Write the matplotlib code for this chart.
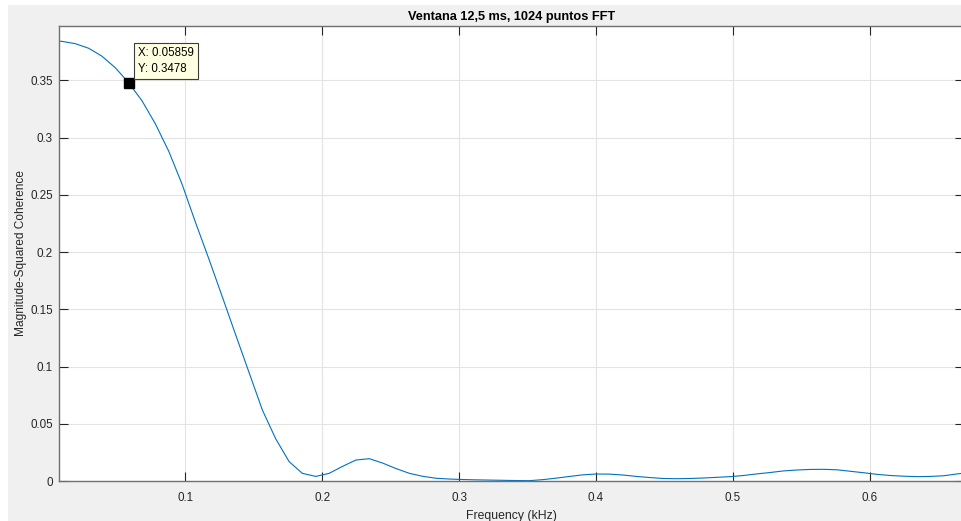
import numpy as np
import matplotlib
matplotlib.use("Agg")
import matplotlib.pyplot as plt
from matplotlib.patches import Rectangle

plt.rcParams['font.family'] = ['Liberation Sans', 'DejaVu Sans']

# frequency bins (kHz), 10 kHz / 1024-point FFT spacing
freq_khz = [0.0000, 0.0098, 0.0195, 0.0293, 0.0391, 0.0488, 0.0586, 0.0684,
            0.0781, 0.0879, 0.0977, 0.1074, 0.1172, 0.1270, 0.1367, 0.1465,
            0.1563, 0.1660, 0.1758, 0.1855, 0.1953, 0.2051, 0.2148, 0.2246,
            0.2344, 0.2441, 0.2539, 0.2637, 0.2734, 0.2832, 0.2930, 0.3027,
            0.3125, 0.3223, 0.3320, 0.3418, 0.3516, 0.3613, 0.3711, 0.3809,
            0.3906, 0.4004, 0.4102, 0.4199, 0.4297, 0.4395, 0.4492, 0.4590,
            0.4688, 0.4785, 0.4883, 0.4980, 0.5078, 0.5176, 0.5273, 0.5371,
            0.5469, 0.5566, 0.5664, 0.5762, 0.5859, 0.5957, 0.6055, 0.6152,
            0.6250, 0.6348, 0.6445, 0.6543, 0.6641, 0.6738]

# magnitude-squared coherence per bin
coherence = [0.3850, 0.3840, 0.3820, 0.3780, 0.3710, 0.3610, 0.3478, 0.3320,
             0.3120, 0.2880, 0.2590, 0.2260, 0.1940, 0.1610, 0.1280, 0.0950,
             0.0620, 0.0370, 0.0170, 0.0067, 0.0040, 0.0067, 0.0127, 0.0183,
             0.0195, 0.0157, 0.0109, 0.0067, 0.0041, 0.0024, 0.0017, 0.0013,
             0.0010, 0.0008, 0.0006, 0.0004, 0.0003, 0.0012, 0.0025, 0.0040,
             0.0054, 0.0061, 0.0060, 0.0052, 0.0040, 0.0030, 0.0022, 0.0020,
             0.0022, 0.0026, 0.0032, 0.0038, 0.0048, 0.0062, 0.0074, 0.0088,
             0.0096, 0.0101, 0.0102, 0.0098, 0.0085, 0.0072, 0.0058, 0.0048,
             0.0042, 0.0038, 0.0040, 0.0046, 0.0062, 0.0075]

# data cursor
tip_x = 0.05859
tip_y = 0.3478

x_ticks = [0.1, 0.2, 0.3, 0.4, 0.5, 0.6]
y_ticks = [0, 0.05, 0.1, 0.15, 0.2, 0.25, 0.3, 0.35]
y_ticklabels = ["0", "0.05", "0.1", "0.15", "0.2", "0.25", "0.3", "0.35"]

fig = plt.figure(figsize=(9.61, 5.21), dpi=100, facecolor="white")
# grey figure panel (white strip left/top)
fig.patches.append(Rectangle((8 / 961, 0), 1, 516 / 521, transform=fig.transFigure,
                             facecolor="#f0f0f0", edgecolor="none", zorder=-1))

ax = fig.add_axes([59 / 961, 40 / 521, 905 / 961, 455 / 521])
ax.set_facecolor("white")
ax.plot(freq_khz, coherence, color="#0072bd", linewidth=0.8)

ax.set_xlim(0.0077, 0.669)
ax.set_ylim(0, 0.3974)
ax.set_xticks(x_ticks)
ax.set_xticklabels([str(t) for t in x_ticks])
ax.set_yticks(y_ticks)
ax.set_yticklabels(y_ticklabels)

ax.grid(True, color="#e3e3e3", linewidth=0.8)
ax.set_axisbelow(True)
ax.tick_params(direction="in", length=6.5, width=0.8, colors="#262626",
               labelsize=8.4, top=True, right=True)
ax.tick_params(axis="x", pad=8)
ax.tick_params(axis="y", pad=4.5)
for side in ax.spines.values():
    side.set_color("#707070")
    side.set_linewidth(1.0)

ax.set_title("Ventana 12,5 ms, 1024 puntos FFT", fontsize=9.2, fontweight="bold",
             color="black", pad=4)
ax.set_xlabel("Frequency (kHz)", fontsize=8.8, color="#262626", labelpad=4)
ax.set_ylabel("Magnitude-Squared Coherence", fontsize=8.6, color="#262626", labelpad=2)

# data tip marker and label
ax.plot([tip_x], [tip_y], marker="s", markersize=6.5, color="black", zorder=5)
ax.annotate(f"X: {tip_x}\nY: {tip_y}", xy=(tip_x, tip_y), xytext=(9, 8),
            textcoords="offset pixels", ha="left", va="bottom", fontsize=8.3,
            color="black", linespacing=1.45,
            bbox=dict(boxstyle="square,pad=0.35", facecolor="#ffffe1",
                      edgecolor="#3c3c3c", linewidth=0.8), zorder=6)

fig.savefig("out.png", dpi=100, facecolor=fig.get_facecolor())
